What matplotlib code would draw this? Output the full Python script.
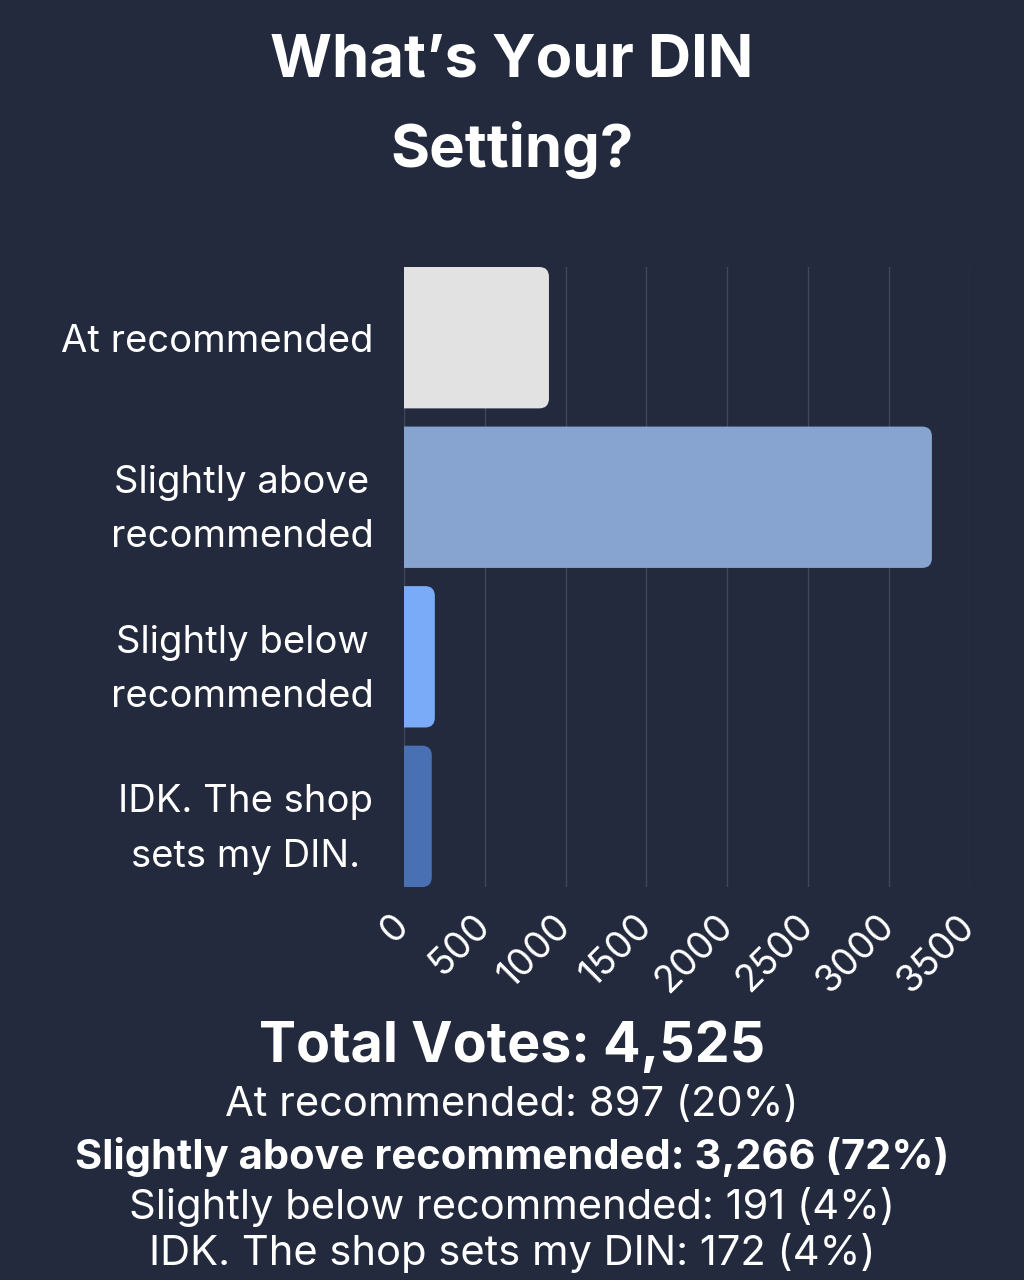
import numpy as np
import matplotlib
matplotlib.use("Agg")
import matplotlib.pyplot as plt
from matplotlib.patches import FancyBboxPatch

# poll results
categories = ["At recommended", "Slightly above\nrecommended",
              "Slightly below\nrecommended", "IDK. The shop\nsets my DIN."]
names = ["At recommended", "Slightly above recommended",
         "Slightly below recommended", "IDK. The shop sets my DIN"]
votes = [897, 3266, 191, 172]
percents = [20, 72, 4, 4]
total_votes = 4525
ticks = [0, 500, 1000, 1500, 2000, 2500, 3000, 3500]
colors = ["#e2e2e2", "#87a3cf", "#7aabf9", "#4a70b4"]

bg = "#232a3d"
plt.rcParams['font.family'] = ['Inter', 'DejaVu Sans']

fig = plt.figure(figsize=(10.24, 12.8), dpi=100, facecolor=bg)
ax = fig.add_axes([0.3945, 0.307, 0.5525, 0.4844])
ax.set_facecolor(bg)

h = 0.886
bars = ax.barh(range(len(votes)), votes, height=h, color=colors)
# swap the square bars for ones with rounded right corners
rad_x = 60
rad_y = 0.062
for b, c in zip(bars, colors):
    b.set_visible(False)
    p = FancyBboxPatch((-rad_x * 2, b.get_y()), b.get_width() + rad_x * 2, b.get_height(),
                       boxstyle="round,pad=0,rounding_size=%f" % rad_x,
                       mutation_aspect=rad_y / rad_x, facecolor=c, edgecolor="none",
                       zorder=3)
    ax.add_patch(p)

ax.set_xlim(0, 3500)
ax.set_ylim(len(votes) - 1 + h / 2, -h / 2)
ax.set_xticks(ticks)
ax.set_xticklabels([str(t) for t in ticks], rotation=45, ha='right', va='center',
                   rotation_mode='anchor', fontsize=27, color='white')
ax.set_yticks(range(len(categories)))
ax.set_yticklabels(categories, fontsize=27.5, color='white', multialignment='center',
                   linespacing=1.65)
ax.tick_params(axis='both', length=0)
ax.tick_params(axis='y', pad=22)
ax.tick_params(axis='x', pad=24)
ax.grid(axis='x', color='#3e475b', lw=1)
ax.set_axisbelow(True)
for s in ax.spines.values():
    s.set_visible(False)

fig.text(0.5, 1 - 106 / 1280, "What’s Your DIN\nSetting?", ha='center', va='center',
         fontsize=43, fontweight='bold', color='white', linespacing=1.7)

fig.text(0.5, 1 - 1047 / 1280, "Total Votes: {:,}".format(total_votes), ha='center',
         va='center', fontsize=40, fontweight='bold', color='white')
ys = [1105, 1157, 1207, 1253]
top = int(np.argmax(votes))
for i, (n, v, pc) in enumerate(zip(names, votes, percents)):
    fig.text(0.5, 1 - ys[i] / 1280, "{}: {:,} ({}%)".format(n, v, pc), ha='center',
             va='center', fontsize=30, color='white',
             fontweight='bold' if i == top else 'normal')

fig.savefig("out.png", dpi=100, facecolor=bg)
